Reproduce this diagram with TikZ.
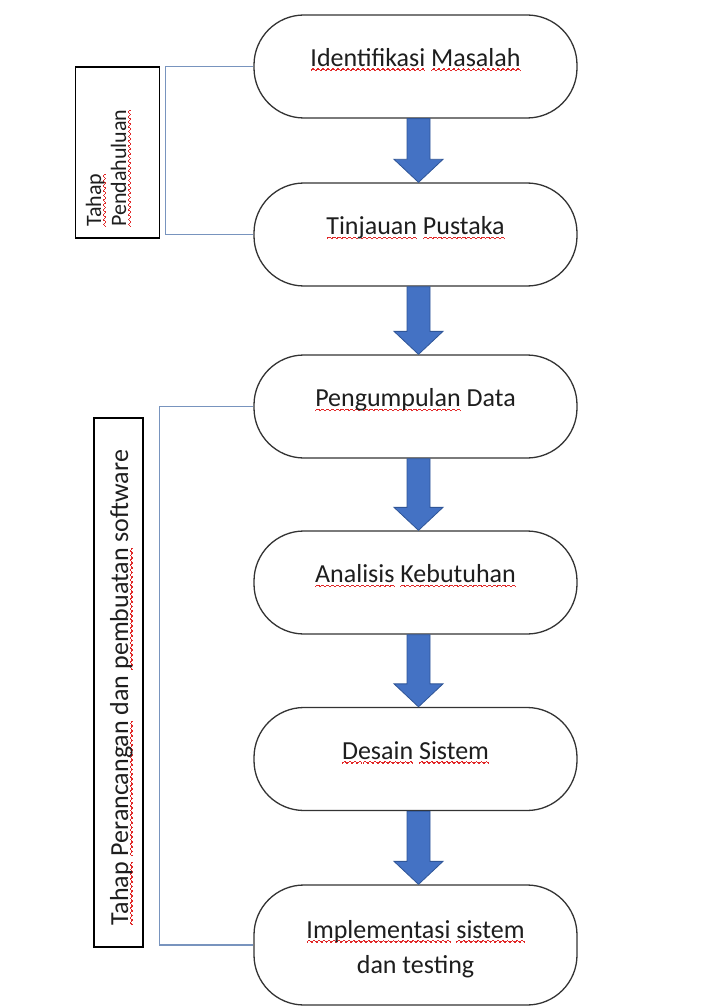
\documentclass[tikz,border=0pt]{standalone}
\usepackage{fontspec}
\setmainfont{Carlito}
\usetikzlibrary{calc}
\definecolor{arrowblue}{HTML}{4472C4}
\definecolor{arrowedge}{HTML}{2F5597}
\definecolor{brkcol}{RGB}{120,148,190}
\definecolor{boxedge}{HTML}{333333}
\definecolor{squig}{RGB}{225,40,40}
\definecolor{txt}{HTML}{1E1E1E}
\newsavebox\sqbox
\newcommand{\wavepiece}{\rule[-4.6pt]{0.8pt}{1.2pt}\rule[-3.9pt]{0.8pt}{1.2pt}\rule[-3.2pt]{0.8pt}{1.2pt}\rule[-3.2pt]{0.8pt}{1.2pt}\rule[-3.9pt]{0.8pt}{1.2pt}\rule[-4.6pt]{0.8pt}{1.2pt}}
\newcommand{\sq}[1]{\sbox\sqbox{#1}\rlap{\textcolor{squig}{\hbox to \wd\sqbox{\xleaders\hbox{\wavepiece}\hfil}}}\usebox\sqbox}
\newcommand{\flowarrow}[2]{%
  \path[barrow] let \p1=(#1.south), \p2=(#2.north) in
    (\x1+3pt-11.5pt,\y1) -- (\x1+3pt+11.5pt,\y1) -- (\x1+3pt+11.5pt,\y2+23pt)
    -- (\x1+3pt+24.5pt,\y2+23pt) -- (\x1+3pt,\y2) -- (\x1+3pt-24.5pt,\y2+23pt)
    -- (\x1+3pt-11.5pt,\y2+23pt) -- cycle;}
\tikzset{
  stage/.style={draw=boxedge, line width=1.3pt, rounded corners=50pt,
    minimum width=323pt, minimum height=103pt, inner sep=0pt},
  phase/.style={draw=black, line width=1.4pt, inner sep=0pt},
  lbl/.style={anchor=base, inner sep=0pt, text=txt},
  brk/.style={draw=brkcol, line width=1.3pt},
  barrow/.style={fill=arrowblue, draw=arrowedge, line width=0.8pt}
}
\begin{document}
\begin{tikzpicture}[x=1pt, y=-1pt, font=\fontsize{26}{35}\selectfont]
\fill[white] (0,0) rectangle (720,1008);
\useasboundingbox (0,0) rectangle (720,1008);

% flow boxes
\node[stage] (b1) at (415.5,66.5) {};
\node[stage] (b2) at (415.5,234.5) {};
\node[stage] (b3) at (415.5,406.5) {};
\node[stage] (b4) at (415.5,582.5) {};
\node[stage] (b5) at (415.5,759) {};
\node[stage, minimum height=120pt] (b6) at (415.5,945) {};

% texts
\node[lbl] (t1) at (b1.center) {\sq{Identifikasi} \sq{Masalah}};
\node[lbl] (t2) at (b2.center) {\sq{Tinjauan} \sq{Pustaka}};
\node[lbl] (t3) at (b3.center) {\sq{Pengumpulan} Data};
\node[lbl] (t4) at (b4.center) {\sq{Analisis} \sq{Kebutuhan}};
\node[lbl] (t5) at (b5.center) {\sq{Desain} \sq{Sistem}};
\node[lbl] (t6a) at (415.5,938) {\sq{Implementasi} \sq{sistem}};
\node[lbl] (t6b) at (415.5,973) {dan testing};

% arrows
\flowarrow{b1}{b2}
\flowarrow{b2}{b3}
\flowarrow{b3}{b4}
\flowarrow{b4}{b5}
\flowarrow{b5}{b6}

% phase boxes
\node[phase, minimum width=84pt, minimum height=171pt] (p1) at (117.5,152.5) {};
\node[phase, minimum width=49pt, minimum height=529pt] (p2) at (118.5,682.5) {};
\node[rotate=90, align=left, anchor=south west, inner sep=0pt, text=txt,
  font=\fontsize{22}{25}\selectfont] (tp1) at (131,227) {\sq{Tahap}\\\sq{Pendahuluan}};
\node[rotate=90, anchor=base, inner sep=0pt, text=txt] (tp2) at (128,687.5)
  {\sq{Tahap} \sq{Perancangan} dan \sq{pembuatan} software};

% brackets
\draw[brk] (b1.west) -- ++(-88,0) |- (b2.west);
\draw[brk] (b3.west) -- ++(-94,0) |- (b6.west);
\end{tikzpicture}
\end{document}
